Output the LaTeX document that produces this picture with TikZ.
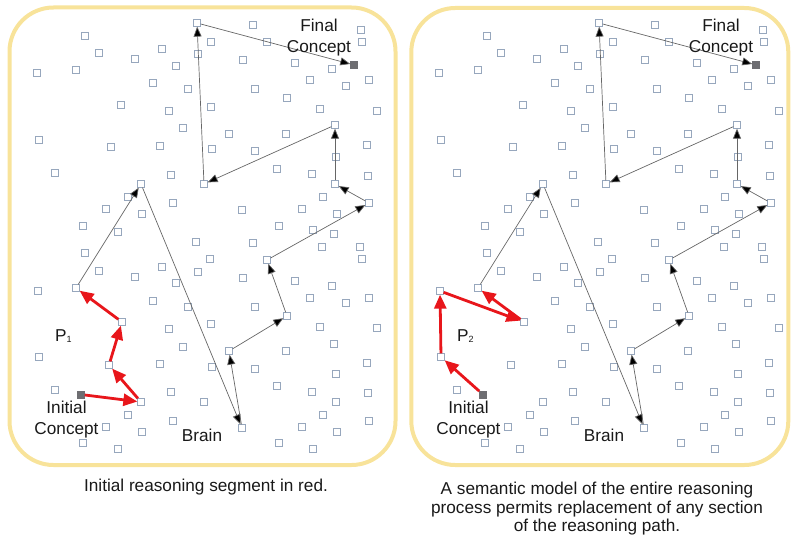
\documentclass[tikz,border=0pt]{standalone}
\usepackage{fontspec}
\setmainfont{Liberation Sans}
\usetikzlibrary{arrows.meta}
\definecolor{frameY}{HTML}{F8E39A}
\definecolor{sqC}{HTML}{97A7BD}
\definecolor{redA}{HTML}{E8161B}
\definecolor{fillG}{HTML}{6E6E72}
\definecolor{lineG}{HTML}{666666}
\newcommand\drawpanel[2]{%
  \foreach \x/\y [count=\i] in {85/36,99/53,37/73,76/70,135/59,162/49,176/66,153/83,188/89,198/54,211/42,253/25,267/42,243/60,295/63,332/69,361/30,362/42,369/80,310/80,346/86,255/89,287/98,320/109,377/111,121/105,169/111,211/107,183/128,229/134,286/134,39/140,111/147,160/146,212/149,255/151,367/145,336/157,55/173,171/175,277/169,312/174,368/176,128/197,106/209,142/214,173/203,242/210,302/209,323/197,337/214,83/226,279/226,313/230,118/232,334/234,196/242,253/243,322/247,360/247,362/259,85/253,210/259,162/267,198/272,99/271,135/277,243/278,295/281,332/286,176/283,153/301,188/307,255/307,310/298,346/303,369/298,169/329,211/324,320/327,377/328,334/344,183/347,286/351,160/364,212/367,255/369,367/363,336/374,55/390,171/392,204/402,277/386,312/392,368/393,336/402,128/415,106/427,142/432,173/421,302/427,323/415,337/432,369/421,83/443,118/449,279/443,313/449}
    \node[sq] (#1s\i) at (\x,\y) {};
  \node[sq] (#1a) at (141,402) {};
  \node[sq] (#1b) at (109,365) {};
  \node[sq] (#1c) at (122,322) {};
  \node[sq] (#1d) at (76,288) {};
  \node[sq] (#1e) at (141,184) {};
  \node[sq] (#1f) at (242,428) {};
  \node[sq] (#1g) at (229,351) {};
  \node[sq] (#1h) at (287,316) {};
  \node[sq] (#1i) at (267,260) {};
  \node[sq] (#1j) at (369,203) {};
  \node[sq] (#1k) at (335,184) {};
  \node[sq] (#1l) at (335,125) {};
  \node[sq] (#1m) at (204,184) {};
  \node[sq] (#1n) at (197,23) {};
  \node[sq] (#1q) at (39,357) {};
  \node[sq] (#1r) at (38,291) {};
  \node[fsq] (#1ini) at (81,394.5) {};
  \node[fsq] (#1fin) at (354,65) {};
  \draw[blk] (#1d) -- (#1e);
  \draw[blk] (#1e) -- (#1f);
  \draw[blk] (#1f) -- (#1g);
  \draw[blk] (#1g) -- (#1h);
  \draw[blk] (#1h) -- (#1i);
  \draw[blk] (#1i) -- (#1j);
  \draw[blk] (#1j) -- (#1k);
  \draw[blk] (#1k) -- (#1l);
  \draw[blk] (#1l) -- (#1m);
  \draw[blk] (#1m) -- (#1n);
  \draw[blk] (#1n) -- (#1fin);
  \node[lbl, anchor=north] (#1finlbl) at (319,19.3) {Final\\Concept};
  \node[lbl, anchor=north] (#1inilbl) at (66.5,400.9) {Initial\\Concept};
  \node[lbl, anchor=base] (#1brain) at (202,441.7) {Brain};
  \node[lbl, anchor=base west] (#1P) at (55,341.2) {P\raisebox{-1pt}{\fontsize{9}{9}\selectfont #2}};
}
\begin{document}
\begin{tikzpicture}[x=1pt,y=-1pt,
  sq/.style={draw=sqC, line width=0.75pt, minimum size=6.5pt, inner sep=0pt},
  fsq/.style={draw=fillG, fill=fillG, line width=0.5pt, minimum size=7pt, inner sep=0pt},
  blk/.style={draw=lineG, line width=0.7pt, -{Triangle[length=10pt,width=8pt,fill=black]}},
  redarr/.style={draw=redA, line width=2.8pt, -{Triangle[length=14pt,width=12pt]}},
  lbl/.style={font=\fontsize{17.2}{20.6}\selectfont, align=center, inner sep=0pt, text=black!90},
  capt/.style={font=\fontsize{17.2}{18.3}\selectfont, align=center, inner sep=0pt, text=black!90},
  frm/.style={draw=frameY, line width=4pt, rounded corners=44pt}]
\useasboundingbox (0,0) rectangle (791,535);
\draw[frm] (9.5,7.5) rectangle (395.5,465);
\draw[frm] (411.3,8) rectangle (788.3,465);
\begin{scope}
  \drawpanel{L}{1}
  \draw[redarr] (Lini) -- (La);
  \draw[redarr] (La) -- (Lb);
  \draw[redarr] (Lb) -- (Lc);
  \draw[redarr] (Lc) -- (Ld);
\end{scope}
\begin{scope}[xshift=402pt]
  \drawpanel{R}{2}
  \draw[redarr] (Rini) -- (Rq);
  \draw[redarr] (Rq) -- (Rr);
  \draw[redarr] (Rr) -- (Rc);
  \draw[redarr] (Rc) -- (Rd);
\end{scope}
\node[capt, anchor=base] (cap1) at (206,491.7) {Initial reasoning segment in red.};
\node[capt, anchor=north] (cap2) at (597,482.3) {A semantic model of the entire reasoning\\process permits replacement of any section\\of the reasoning path.};
\end{tikzpicture}
\end{document}
